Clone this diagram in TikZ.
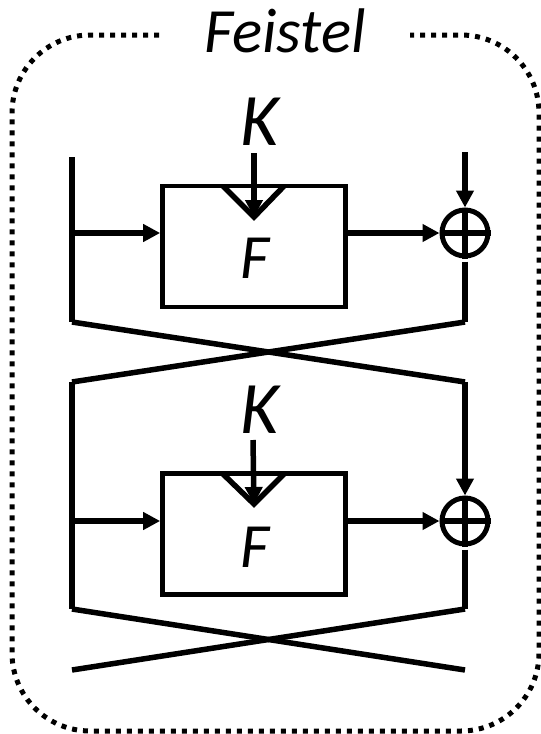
\documentclass[tikz,border=0pt]{standalone}
\usepackage{fontspec}
\setmainfont{Carlito}
\usetikzlibrary{arrows.meta}
\tikzset{
  wire/.style={line width=5.5pt, line join=miter},
  arr/.style={wire, -{Triangle[length=17pt,width=17pt]}},
  fbox/.style={draw, line width=4.7pt, minimum width=183pt, minimum height=121pt, inner sep=0pt},
  xor/.style={draw, circle, line width=5pt, minimum size=46pt, inner sep=0pt},
  frame/.style={line width=5pt, dash pattern=on 5pt off 6pt, rounded corners=78pt},
  ktext/.style={font=\itshape\fontsize{74}{74}\selectfont, inner sep=0pt, anchor=base},
  ftext/.style={font=\itshape\fontsize{63}{63}\selectfont, inner sep=0pt, anchor=base},
  ttext/.style={font=\itshape\fontsize{63}{63}\selectfont, inner sep=0pt, anchor=base}
}
\begin{document}
\begin{tikzpicture}[x=1pt,y=-1pt]
\useasboundingbox (0,0) rectangle (541,734);
% frame
\draw[frame] (159,35) -- (12,35) -- (12,731) -- (539,731) -- (539,35) -- (410,35);
\node[ttext] (title) at (285,52) {Feistel};

% ---- stage 1
\node[fbox] (f1) at (254,246.5) {};
\node[ftext] (F1) at (255,278) {F};
\node[ktext] (K1) at (260,145) {K};
\node[xor] (x1) at (465,233) {};
\draw[wire] (x1.north) -- (x1.south);
\draw[wire] (x1.west) -- (x1.east);
\coordinate (t1a) at (223,186);
\coordinate (t1b) at (254,217);
\coordinate (t1c) at (284,186);
\draw[wire] (t1a) -- (t1b) -- (t1c);
\coordinate (k1s) at (254,153);
\draw[arr] (k1s) -- (t1b);
\coordinate (l1top) at (72,157);
\coordinate (l1bot) at (72,322);
\coordinate (l1mid) at (72,233);
\draw[wire] (l1top) -- (l1bot);
\draw[arr] (l1mid) -- (f1.west |- x1.west);
\draw[arr] (f1.east |- x1.west) -- (x1.west);
\coordinate (r1top) at (465,152);
\coordinate (r1bot) at (465,322);
\draw[arr] (r1top) -- (x1.north);
\draw[wire, shorten <=3pt] (x1.south) -- (r1bot);

% ---- crossing 1
\coordinate (l2top) at (72,382);
\coordinate (r2top) at (465,382);
\draw[wire] (l1bot) -- (r2top);
\draw[wire] (r1bot) -- (l2top);

% ---- stage 2
\node[fbox] (f2) at (254,534) {};
\node[ftext] (F2) at (255,567) {F};
\node[ktext] (K2) at (260,433) {K};
\node[xor] (x2) at (465,521) {};
\draw[wire] (x2.north) -- (x2.south);
\draw[wire] (x2.west) -- (x2.east);
\coordinate (t2a) at (223,474);
\coordinate (t2b) at (254,504);
\coordinate (t2c) at (284,474);
\draw[wire] (t2a) -- (t2b) -- (t2c);
\coordinate (k2s) at (253,440);
\draw[arr] (k2s) -- (t2b);
\coordinate (l2bot) at (72,609);
\coordinate (l2mid) at (72,521);
\draw[wire] (l2top) -- (l2bot);
\draw[arr] (l2mid) -- (f2.west |- x2.west);
\draw[arr] (f2.east |- x2.west) -- (x2.west);
\coordinate (r2bot) at (465,609);
\draw[arr] (r2top) -- (x2.north);
\draw[wire, shorten <=3pt] (x2.south) -- (r2bot);

% ---- crossing 2
\coordinate (l3) at (72,670);
\coordinate (r3) at (465,670);
\draw[wire] (l2bot) -- (r3);
\draw[wire] (r2bot) -- (l3);
\end{tikzpicture}
\end{document}
